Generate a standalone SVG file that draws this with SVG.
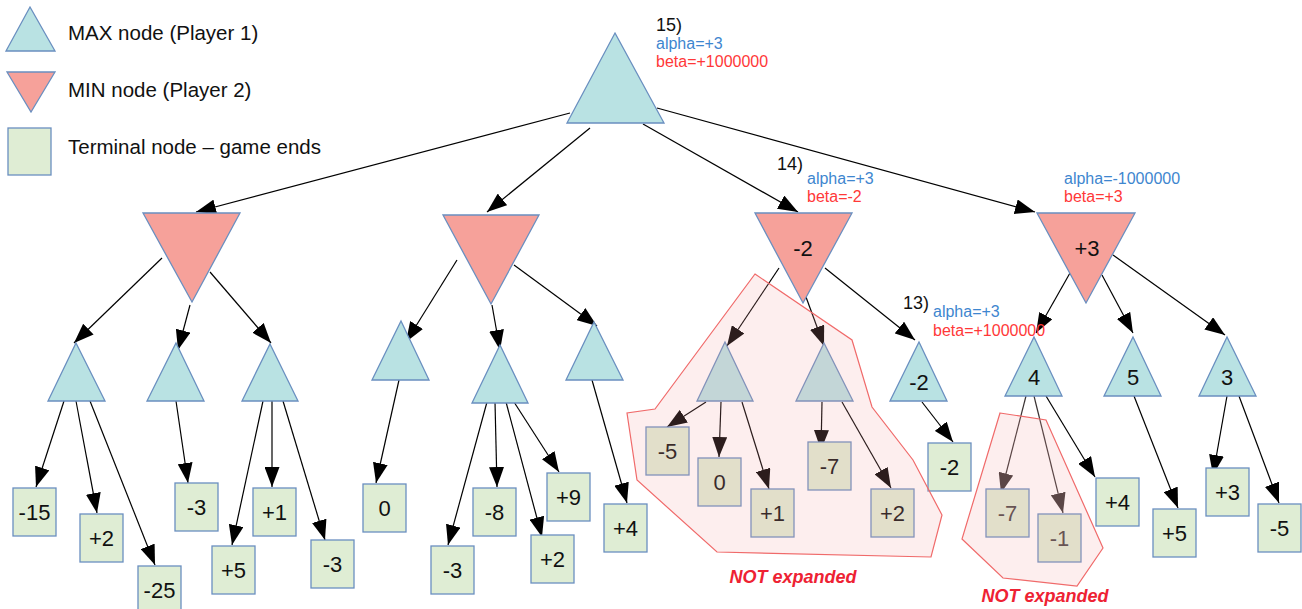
<svg xmlns="http://www.w3.org/2000/svg" width="1302" height="609" viewBox="0 0 1302 609">
  <defs>
    <marker id="arrow" markerUnits="userSpaceOnUse" markerWidth="20" markerHeight="15" refX="20" refY="7.5" orient="auto">
      <path d="M0,0 L20,7.5 L0,15 z" fill="#000"/>
    </marker>
    <marker id="arrow-dim" markerUnits="userSpaceOnUse" markerWidth="20" markerHeight="15" refX="20" refY="7.5" orient="auto">
      <path d="M0,0 L20,7.5 L0,15 z" fill="#3a3333"/>
    </marker>
    <style>
      text { font-family: "Liberation Sans", Arial, sans-serif; }
      .max { fill: #b9e2e3; stroke: #6a8fc0; stroke-width: 1.3; }
      .min { fill: #f6a19a; stroke: #6a8fc0; stroke-width: 1.3; }
      .term { fill: #dfedd4; stroke: #6a8fc0; stroke-width: 1.3; }
      .edge { stroke: #000; stroke-width: 1.2; fill: none; marker-end: url(#arrow); }
      .edge.dim { stroke: #3a3333; marker-end: url(#arrow-dim); }
      .val { font-size: 22px; fill: #111; text-anchor: middle; }
      .val.dim { fill: #4a4444; }
      .legend { font-size: 20.5px; fill: #111; }
      .step { font-size: 18px; fill: #111; }
      .alpha { font-size: 16px; fill: #3e86cf; }
      .beta { font-size: 16px; fill: #ff3838; }
      .hull { fill: #f4a0a0; fill-opacity: 0.18; stroke: #f06a6a; stroke-width: 1.2; }
      .note { font-size: 18px; font-weight: bold; font-style: italic; fill: #ee2233; text-anchor: middle; }
    </style>
  </defs>

  <!-- legend -->
  <g id="legend">
    <polygon class="max" points="30,7 55,51 6,51"/>
    <polygon class="min" points="7,72 55,72 31,112"/>
    <rect class="term" x="8" y="128" width="43" height="47"/>
    <text class="legend" x="68" y="40">MAX node (Player 1)</text>
    <text class="legend" x="68" y="97">MIN node (Player 2)</text>
    <text class="legend" x="68" y="154">Terminal node – game ends</text>
  </g>

  <!-- connectors -->
  <g id="edges">
    <line class="edge" x1="570" y1="113" x2="196" y2="212"/>
    <line class="edge" x1="590" y1="128" x2="487" y2="212"/>
    <line class="edge" x1="643" y1="124" x2="798" y2="212"/>
    <line class="edge" x1="657" y1="108" x2="1035" y2="212"/>

    <line class="edge" x1="162" y1="258" x2="74" y2="343"/>
    <line class="edge" x1="190" y1="305" x2="178" y2="350"/>
    <line class="edge" x1="210" y1="272" x2="271" y2="343"/>
    <line class="edge" x1="64" y1="401" x2="36" y2="487"/>
    <line class="edge" x1="76" y1="401" x2="97" y2="513"/>
    <line class="edge" x1="90" y1="401" x2="155" y2="565"/>
    <line class="edge" x1="176" y1="401" x2="188" y2="483"/>
    <line class="edge" x1="263" y1="401" x2="232" y2="545"/>
    <line class="edge" x1="272" y1="401" x2="272" y2="487"/>
    <line class="edge" x1="283" y1="401" x2="325" y2="540"/>

    <line class="edge" x1="457" y1="260" x2="406" y2="342"/>
    <line class="edge" x1="492" y1="305" x2="500" y2="350"/>
    <line class="edge" x1="514" y1="265" x2="597" y2="326"/>
    <line class="edge" x1="399" y1="380" x2="376" y2="483"/>
    <line class="edge" x1="487" y1="402" x2="448" y2="545"/>
    <line class="edge" x1="495" y1="402" x2="497" y2="487"/>
    <line class="edge" x1="506" y1="402" x2="542" y2="537"/>
    <line class="edge" x1="514" y1="402" x2="559" y2="472"/>
    <line class="edge" x1="592" y1="380" x2="627" y2="503"/>

    <line class="edge" x1="779" y1="268" x2="727" y2="346"/>
    <line class="edge" x1="806" y1="297" x2="824" y2="346"/>
    <line class="edge" x1="825" y1="268" x2="915" y2="340"/>
    <line class="edge" x1="706" y1="402" x2="667" y2="427"/>
    <line class="edge" x1="721" y1="402" x2="719" y2="457"/>
    <line class="edge" x1="742" y1="402" x2="769" y2="489"/>
    <line class="edge" x1="822" y1="402" x2="821" y2="450"/>
    <line class="edge" x1="842" y1="402" x2="891" y2="488"/>
    <line class="edge" x1="922" y1="402" x2="953" y2="442"/>

    <line class="edge" x1="1070" y1="273" x2="1036" y2="333"/>
    <line class="edge" x1="1102" y1="275" x2="1133" y2="333"/>
    <line class="edge" x1="1113" y1="255" x2="1225" y2="335"/>
    <line class="edge dim" x1="1026" y1="396" x2="1001" y2="493"/>
    <line class="edge dim" x1="1034" y1="396" x2="1063" y2="513"/>
    <line class="edge" x1="1046" y1="396" x2="1095" y2="477"/>
    <line class="edge" x1="1134" y1="396" x2="1178" y2="508"/>
    <line class="edge" x1="1227" y1="396" x2="1213" y2="475"/>
    <line class="edge" x1="1239" y1="396" x2="1279" y2="503"/>
  </g>

  <!-- root (MAX) -->
  <g id="root">
    <polygon class="max" points="615,33 664,123 567,123"/>
    <text class="step" x="656" y="31">15)</text>
    <text class="alpha" x="656" y="49">alpha=+3</text>
    <text class="beta" x="656" y="67">beta=+1000000</text>
  </g>

  <!-- MIN level -->
  <g id="min1"><polygon class="min" points="143,213 240,213 192,302"/></g>
  <g id="min2"><polygon class="min" points="443,215 539,215 491,304"/></g>
  <g id="min3">
    <polygon class="min" points="755,213 852,213 803,303"/>
    <text class="val" x="803" y="256">-2</text>
    <text class="step" x="777" y="170">14)</text>
    <text class="alpha" x="807" y="184">alpha=+3</text>
    <text class="beta" x="807" y="202">beta=-2</text>
  </g>
  <g id="min4">
    <polygon class="min" points="1037,213 1135,213 1086,303"/>
    <text class="val" x="1087" y="256">+3</text>
    <text class="alpha" x="1064" y="184">alpha=-1000000</text>
    <text class="beta" x="1064" y="202">beta=+3</text>
  </g>

  <!-- MAX level -->
  <g id="max-a"><polygon class="max" points="76,343 105,401 48,401"/></g>
  <g id="max-b"><polygon class="max" points="176,343 204,401 147,401"/></g>
  <g id="max-c"><polygon class="max" points="270,344 298,401 242,401"/></g>
  <g id="max-d"><polygon class="max" points="401,321 429,380 372,380"/></g>
  <g id="max-e"><polygon class="max" points="500,345 528,403 472,403"/></g>
  <g id="max-f"><polygon class="max" points="594,322 623,380 566,380"/></g>
  <g id="max-g"><polygon class="max" points="725,342 753,401 697,401"/></g>
  <g id="max-h"><polygon class="max" points="824,343 853,401 796,401"/></g>
  <g id="max-i">
    <polygon class="max" points="919,342 947,401 890,401"/>
    <text class="val" x="919" y="390">-2</text>
    <text class="step" x="903" y="309">13)</text>
    <text class="alpha" x="933" y="317">alpha=+3</text>
    <text class="beta" x="933" y="336">beta=+1000000</text>
  </g>
  <g id="max-j">
    <polygon class="max" points="1034,337 1062,396 1005,396"/>
    <text class="val" x="1034" y="385">4</text>
  </g>
  <g id="max-k">
    <polygon class="max" points="1133,337 1161,396 1104,396"/>
    <text class="val" x="1133" y="385">5</text>
  </g>
  <g id="max-l">
    <polygon class="max" points="1227,337 1256,396 1199,396"/>
    <text class="val" x="1227" y="385">3</text>
  </g>

  <!-- terminal nodes -->
  <g id="t1"><rect class="term" x="13" y="488" width="43" height="48"/><text class="val" x="34.5" y="520">-15</text></g>
  <g id="t2"><rect class="term" x="80" y="514" width="43" height="48"/><text class="val" x="101.5" y="546">+2</text></g>
  <g id="t3"><rect class="term" x="138" y="566" width="43" height="48"/><text class="val" x="159.5" y="598">-25</text></g>
  <g id="t4"><rect class="term" x="175" y="483" width="43" height="48"/><text class="val" x="196.5" y="515">-3</text></g>
  <g id="t5"><rect class="term" x="212" y="546" width="43" height="48"/><text class="val" x="233.5" y="578">+5</text></g>
  <g id="t6"><rect class="term" x="253" y="488" width="43" height="48"/><text class="val" x="274.5" y="520">+1</text></g>
  <g id="t7"><rect class="term" x="311" y="540" width="43" height="48"/><text class="val" x="332.5" y="572">-3</text></g>
  <g id="t8"><rect class="term" x="363" y="484" width="43" height="48"/><text class="val" x="384.5" y="516">0</text></g>
  <g id="t9"><rect class="term" x="431" y="546" width="43" height="48"/><text class="val" x="452.5" y="578">-3</text></g>
  <g id="t10"><rect class="term" x="473" y="488" width="43" height="48"/><text class="val" x="494.5" y="520">-8</text></g>
  <g id="t11"><rect class="term" x="531" y="535" width="43" height="48"/><text class="val" x="552.5" y="567">+2</text></g>
  <g id="t12"><rect class="term" x="547" y="473" width="43" height="48"/><text class="val" x="568.5" y="505">+9</text></g>
  <g id="t13"><rect class="term" x="604" y="504" width="43" height="48"/><text class="val" x="625.5" y="536">+4</text></g>
  <g id="t14"><rect class="term" x="646" y="427" width="43" height="48"/><text class="val" x="667.5" y="459">-5</text></g>
  <g id="t15"><rect class="term" x="698" y="458" width="43" height="48"/><text class="val" x="719.5" y="490">0</text></g>
  <g id="t16"><rect class="term" x="751" y="489" width="43" height="48"/><text class="val" x="772.5" y="521">+1</text></g>
  <g id="t17"><rect class="term" x="808" y="442" width="43" height="48"/><text class="val" x="829.5" y="474">-7</text></g>
  <g id="t18"><rect class="term" x="871" y="489" width="43" height="48"/><text class="val" x="892.5" y="521">+2</text></g>
  <g id="t19"><rect class="term" x="928" y="443" width="43" height="48"/><text class="val" x="949.5" y="475">-2</text></g>
  <g id="t20"><rect class="term" x="986" y="489" width="43" height="48"/><text class="val dim" x="1007.5" y="521">-7</text></g>
  <g id="t21"><rect class="term" x="1038" y="514" width="43" height="48"/><text class="val dim" x="1059.5" y="546">-1</text></g>
  <g id="t22"><rect class="term" x="1096" y="478" width="43" height="48"/><text class="val" x="1117.5" y="510">+4</text></g>
  <g id="t23"><rect class="term" x="1153" y="509" width="43" height="48"/><text class="val" x="1174.5" y="541">+5</text></g>
  <g id="t24"><rect class="term" x="1206" y="468" width="43" height="48"/><text class="val" x="1227.5" y="500">+3</text></g>
  <g id="t25"><rect class="term" x="1258" y="504" width="43" height="48"/><text class="val" x="1279.5" y="536">-5</text></g>

  <!-- pruned subtrees -->
  <g id="pruned-1">
    <polygon class="hull" points="755,274 852,340 872,407 913,460 942,515 931,557 717,552 637,480 627,413 655,409"/>
    <text class="note" x="793" y="583">NOT expanded</text>
  </g>
  <g id="pruned-2">
    <polygon class="hull" points="1000,413 1046,420 1103,548 1077,586 1003,578 962,539"/>
    <text class="note" x="1045" y="602">NOT expanded</text>
  </g>
</svg>
